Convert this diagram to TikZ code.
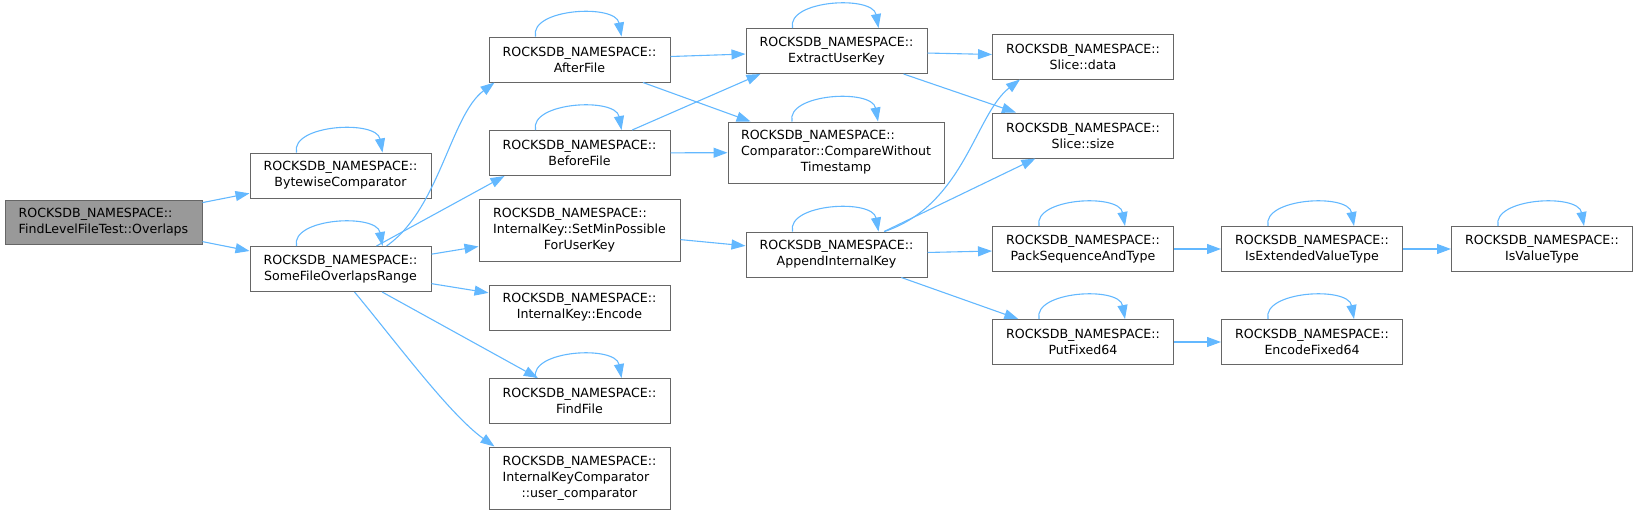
\documentclass[tikz,border=0pt]{standalone}
\usepackage{fontspec}
\setmainfont{DejaVu Sans}
\usetikzlibrary{arrows.meta}

\definecolor{edgeblue}{HTML}{63B8FF}
\definecolor{boxgray}{HTML}{666666}
\definecolor{rootgray}{HTML}{999999}

\begin{document}
\begin{tikzpicture}[x=1pt,y=1pt,
    box/.style={draw=boxgray,fill=white,line width=1pt,minimum width=181pt,
      minimum height=45pt,inner sep=0pt,align=center,
      font=\fontsize{12.6}{16}\selectfont},
    rootbox/.style={box,fill=rootgray,minimum width=197pt,minimum height=44pt,align=left},
    tallbox/.style={box,minimum height=62pt},
    call/.style={draw=edgeblue,line width=1.1pt,-{Triangle[length=14pt,width=10pt]}}]
   \useasboundingbox (0,0) rectangle (1638,-515);

   \node[rootbox] (overlaps) at (103.5,-222) {ROCKSDB\_NAMESPACE::\\FindLevelFileTest::Overlaps};
   \node[box] (bytewise) at (340.5,-175.5) {ROCKSDB\_NAMESPACE::\\BytewiseComparator};
   \node[box] (someoverlap) at (340.5,-269) {ROCKSDB\_NAMESPACE::\\SomeFileOverlapsRange};

   \node[box] (afterfile) at (579.5,-59.5) {ROCKSDB\_NAMESPACE::\\AfterFile};
   \node[box] (beforefile) at (579.5,-153) {ROCKSDB\_NAMESPACE::\\BeforeFile};
   \node[tallbox,minimum width=201pt] (setminpossible) at (579.5,-230)
     {\begin{tabular}{@{}l@{}}ROCKSDB\_NAMESPACE::\\InternalKey::SetMinPossible\\\multicolumn{1}{@{}c@{}}{ForUserKey}\end{tabular}};
   \node[box] (encode) at (579.5,-307.5) {ROCKSDB\_NAMESPACE::\\InternalKey::Encode};
   \node[box] (findfile) at (579.5,-401) {ROCKSDB\_NAMESPACE::\\FindFile};
   \node[tallbox] (usercomp) at (579.5,-478)
     {\begin{tabular}{@{}l@{}}ROCKSDB\_NAMESPACE::\\InternalKeyComparator\\\multicolumn{1}{@{}c@{}}{::user\_comparator}\end{tabular}};

   \node[box] (extractkey) at (836.5,-51) {ROCKSDB\_NAMESPACE::\\ExtractUserKey};
   \node[tallbox,minimum width=216pt,minimum height=61pt] (comparewts) at (836,-152.5)
     {\begin{tabular}{@{}l@{}}ROCKSDB\_NAMESPACE::\\Comparator::CompareWithout\\\multicolumn{1}{@{}c@{}}{Timestamp}\end{tabular}};
   \node[box] (appendkey) at (836.5,-254.5) {ROCKSDB\_NAMESPACE::\\AppendInternalKey};

   \node[box] (slicedata) at (1083,-56.5) {ROCKSDB\_NAMESPACE::\\Slice::data};
   \node[box] (slicesize) at (1083,-135.5) {ROCKSDB\_NAMESPACE::\\Slice::size};
   \node[box] (packseq) at (1083,-249) {ROCKSDB\_NAMESPACE::\\PackSequenceAndType};
   \node[box] (putfixed) at (1083,-342) {ROCKSDB\_NAMESPACE::\\PutFixed64};
   \node[box] (isextended) at (1312,-249) {ROCKSDB\_NAMESPACE::\\IsExtendedValueType};
   \node[box] (encodefixed) at (1312,-342) {ROCKSDB\_NAMESPACE::\\EncodeFixed64};
   \node[box] (isvalue) at (1542,-249) {ROCKSDB\_NAMESPACE::\\IsValueType};

   % recursive calls
   \foreach \n in {bytewise,someoverlap,afterfile,beforefile,findfile,extractkey,
       comparewts,appendkey,packseq,putfixed,isextended,isvalue,encodefixed}
     \draw[call] ([xshift=-44pt]\n.north) .. controls +(-6,28) and +(-6,33) .. ([xshift=42pt]\n.north);

   \draw[call] (overlaps) -- (bytewise);
   \draw[call] (overlaps) -- (someoverlap);
   \draw[call] ([xshift=46pt]someoverlap.north) .. controls +(53,37) and +(-44,-33) .. ([xshift=-85pt]afterfile.south);
   \draw[call] ([xshift=36pt]someoverlap.north) -- ([xshift=-75pt]beforefile.south);
   \draw[call] (someoverlap) -- (setminpossible);
   \draw[call] (someoverlap) -- (encode);
   \draw[call] (someoverlap) -- (findfile);
   \draw[call] ([xshift=14pt]someoverlap.south) .. controls +(40,-48) and +(-45,32) .. ([xshift=-85pt]usercomp.north);
   \draw[call] (afterfile) -- (extractkey);
   \draw[call] (afterfile) -- (comparewts);
   \draw[call] (beforefile) -- ([xshift=-76pt]extractkey.south);
   \draw[call] (beforefile) -- (comparewts);
   \draw[call] (setminpossible) -- (appendkey);
   \draw[call] (extractkey) -- (slicedata);
   \draw[call] (extractkey) -- (slicesize);
   \draw[call] ([xshift=48pt]appendkey.north) .. controls +(80,27) and +(-45,-35) .. ([xshift=-63pt]slicedata.south);
   \draw[call] (appendkey) -- (slicesize);
   \draw[call] (appendkey) -- (packseq);
   \draw[call] (appendkey) -- (putfixed);
   \draw[call] (packseq) -- (isextended);
   \draw[call] (isextended) -- (isvalue);
   \draw[call] (putfixed) -- (encodefixed);
\end{tikzpicture}
\end{document}
